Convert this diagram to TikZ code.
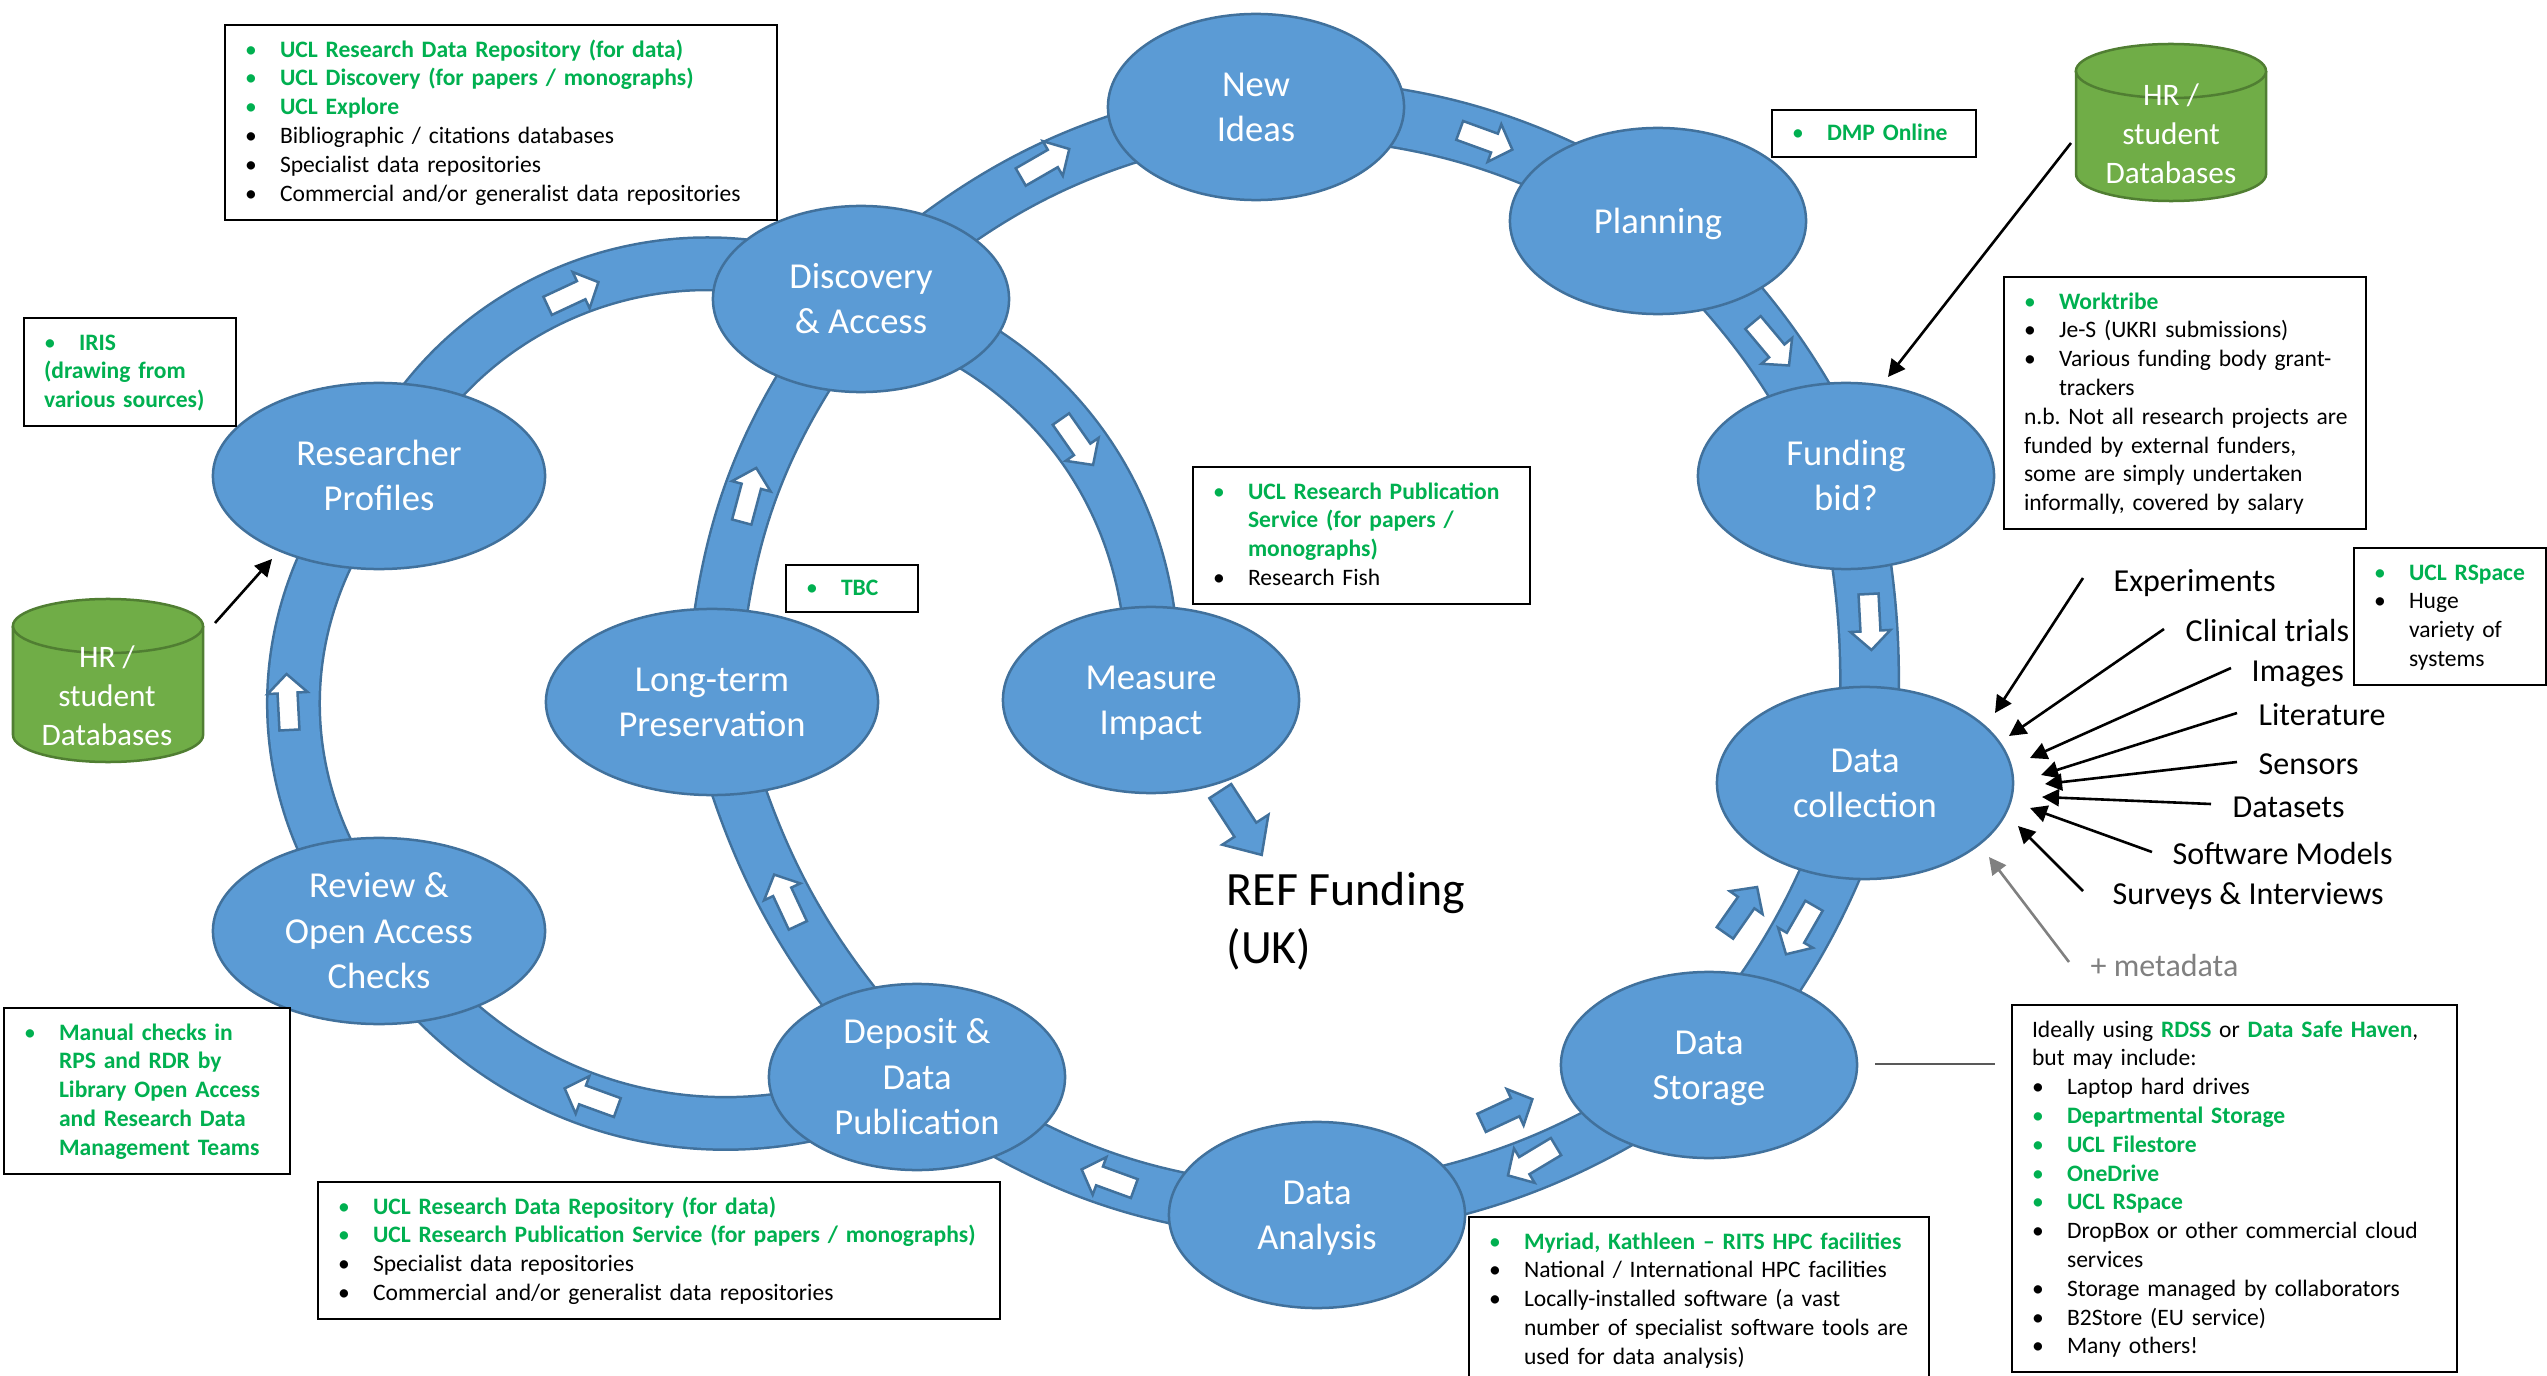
\documentclass[tikz,border=0pt]{standalone}
\usepackage{fontspec}
\setmainfont{Carlito}
\usetikzlibrary{shapes.geometric,arrows.meta}
\definecolor{bfill}{HTML}{5B9BD5}
\definecolor{bedge}{HTML}{41719C}
\definecolor{gfill}{HTML}{70AD47}
\definecolor{gedge}{HTML}{507E32}
\definecolor{ugreen}{HTML}{00B050}
\pgfdeclarelayer{bands}
\pgfsetlayers{bands,main}
\frenchspacing
\newcommand{\gb}[1]{{\color{ugreen}\makebox[0.35cm][l]{•}\textbf{#1}}}
\newcommand{\kb}[1]{\makebox[0.35cm][l]{•}#1}
\newcommand{\gc}[1]{\hspace*{0.35cm}{\color{ugreen}\textbf{#1}}}
\newcommand{\kc}[1]{\hspace*{0.35cm}#1}
\newcommand{\gt}[1]{{\color{ugreen}\textbf{#1}}}
\tikzset{
  x=0.01cm,y=-0.01cm,
  stagebase/.style={ellipse,draw=bedge,fill=bfill,line width=0.025cm,inner sep=0pt,
    minimum width=2.96cm,minimum height=1.86cm,align=center,text=white,
    font=\fontsize{10.4}{12.9}\selectfont},
  stage/.style={stagebase,text height=0.687cm,text depth=0pt},
  singlestage/.style={stagebase,text height=0.24cm,text depth=0pt},
  threestage/.style={stagebase,text height=1.15cm,text depth=0pt},
  band/.style={draw=bedge,line width=0.025cm,double=bfill,double distance=0.5cm},
  wideband/.style={band,double distance=0.56cm},
  flowarrow/.style={draw=bedge,fill=white,line width=0.025cm,line join=miter},
  blueflow/.style={flowarrow,fill=bfill},
  infobox/.style={draw=black,line width=0.02cm,fill=white,anchor=north west,align=left,
    inner xsep=0.2cm,inner ysep=0.1cm,font=\fontsize{6.7}{8.19}\selectfont,
    execute at begin node={\rule{0pt}{0.22cm}\strut},execute at end node={\strut}},
  tinybox/.style={infobox,inner ysep=0.08cm},
  srclabel/.style={anchor=west,inner sep=0pt,text height=0.28cm,text depth=0.06cm,
    font=\fontsize{9.1}{11}\selectfont},
  srcarrow/.style={-{Triangle[length=0.17cm,width=0.17cm]},line width=0.026cm,black},
  cyl/.style={draw=gedge,fill=gfill,line width=0.025cm},
  cyltext/.style={text=white,align=center,inner sep=0pt,font=\fontsize{8.9}{11.05}\selectfont},
}
\newcommand{\flow}[4][flowarrow]{% style, x, y, angle
  \path[#1,shift={(#2,#3)},rotate=#4] (-0.28cm,-0.1cm) -- (0.09cm,-0.1cm) -- (0.09cm,-0.2cm)
    -- (0.28cm,0cm) -- (0.09cm,0.2cm) -- (0.09cm,0.1cm) -- (-0.28cm,0.1cm) -- cycle;}
\newcommand{\cylshape}[3]{% centre x, top y, body height
  \path[cyl] (#1-95,#2+27) -- (#1-95,#2+#3) arc[start angle=180,end angle=360,x radius=0.95cm,y radius=0.27cm]
     -- (#1+95,#2+27) arc[start angle=0,end angle=180,x radius=0.95cm,y radius=0.27cm] -- cycle;
  \path[cyl] (#1-95,#2+27) arc[start angle=180,end angle=360,x radius=0.95cm,y radius=0.27cm];
}
\begin{document}
\begin{tikzpicture}
\path[use as bounding box] (0,0) rectangle (2547,1376);

% stages
\node[stage] (discovery) at (861,299) {Discovery\\\& Access};
\node[stage] (newideas) at (1256,107) {New\\Ideas};
\node[singlestage] (planning) at (1658,221) {Planning};
\node[stage] (funding) at (1846,476) {Funding\\bid?};
\node[stage,minimum height=1.92cm] (collection) at (1865,783) {Data\\collection};
\node[stage] (storage) at (1709,1065) {Data\\Storage};
\node[stage] (analysis) at (1317,1215) {Data\\Analysis};
\node[threestage] (deposit) at (917,1077) {Deposit \&\\Data\\Publication};
\node[threestage,minimum width=3.32cm] (review) at (379,931) {Review \&\\Open Access\\Checks};
\node[stage,minimum width=3.32cm] (researcher) at (379,476) {Researcher\\Profiles};
\node[stage,minimum width=3.32cm] (longterm) at (712,702) {Long-term\\Preservation};
\node[stage] (measure) at (1151,700) {Measure\\Impact};

% bands
\begin{pgfonlayer}{bands}
\draw[band] (discovery.center) to[bend left=16] (newideas.center);
\draw[wideband] (newideas.center) to[bend left=15] (planning.center);
\draw[wideband] (planning.center) to[bend left=10] (funding.center);
\draw[wideband] (funding.center) to[bend left=8] (collection.center);
\draw[wideband] (collection.center) to[bend left=10] (storage.center);
\draw[band] (storage.center) to[bend left=14] (analysis.center);
\draw[band] (analysis.center) to[bend left=16] (deposit.center);
\draw[band] (deposit.center) to[bend left=42] (review.center);
\draw[band] (review.center) to[bend left=40] (researcher.center);
\draw[band] (researcher.center) to[bend left=46] (discovery.center);
\draw[band] (discovery.center) to[bend left=40] (measure.center);
\draw[band] (longterm.center) to[bend left=17] (discovery.center);
\draw[band] (deposit.center) to[bend left=14] (longterm.center);
\end{pgfonlayer}

% flow arrows
\flow{573}{294}{25}
\flow{1045}{163}{30}
\flow{1486}{140}{-20}
\flow{1771}{344}{-50}
\flow{1870}{622}{-87}
\flow{1800}{930}{-120}
\flow[blueflow]{1741}{910}{55}
\flow[blueflow]{1507}{1111}{25}
\flow{1532}{1161}{211}
\flow{1108}{1179}{160}
\flow{591}{1098}{160}
\flow{786}{900}{115}
\flow{749}{495}{75}
\flow{1077}{442}{-55}
\flow{288}{702}{93}
\path[blueflow,shift={(1241,823)},rotate=-57] (-0.38cm,-0.13cm) -- (0.08cm,-0.13cm) -- (0.08cm,-0.275cm)
    -- (0.38cm,0cm) -- (0.08cm,0.275cm) -- (0.08cm,0.13cm) -- (-0.38cm,0.13cm) -- cycle;

% REF label
\node[anchor=north west,align=left,inner sep=0pt,font=\fontsize{13.6}{16.5}\selectfont] (ref) at (1226,872) {REF Funding\\(UK)};

% cylinders
\cylshape{2171}{44}{130}
\node[cyltext] (hr1) at (2171,134) {HR /\\student\\Databases};
\cylshape{108}{599}{136}
\node[cyltext] (hr2) at (107,696) {HR /\\student\\Databases};

% info boxes
\node[infobox,text width=5.12cm] (boxa) at (224,24) {\gb{UCL Research Data Repository (for data)}\\\gb{UCL Discovery (for papers / monographs)}\\\gb{UCL Explore}\\\kb{Bibliographic / citations databases}\\\kb{Specialist data repositories}\\\kb{Commercial and/or generalist data repositories}};
\node[infobox,text width=1.72cm] (boxb) at (23,317) {\gb{IRIS}\\\gt{(drawing from}\\\gt{various sources)}};
\node[infobox,text width=2.46cm] (boxc) at (3,1007) {\gb{Manual checks in}\\\gc{RPS and RDR by}\\\gc{Library Open Access}\\\gc{and Research Data}\\\gc{Management Teams}};
\node[infobox,text width=6.42cm] (boxd) at (317,1181) {\gb{UCL Research Data Repository (for data)}\\\gb{UCL Research Publication Service (for papers / monographs)}\\\kb{Specialist data repositories}\\\kb{Commercial and/or generalist data repositories}};
\node[infobox,text width=4.2cm] (boxe) at (1468,1216) {\gb{Myriad, Kathleen – RITS HPC facilities}\\\kb{National / International HPC facilities}\\\kb{Locally-installed software (a vast}\\\kc{number of specialist software tools are}\\\kc{used for data analysis)}};
\node[infobox,text width=4.05cm] (boxf) at (2011,1004) {Ideally using \gt{RDSS} or \gt{Data Safe Haven},\\but may include:\\\kb{Laptop hard drives}\\\gb{Departmental Storage}\\\gb{UCL Filestore}\\\gb{OneDrive}\\\gb{UCL RSpace}\\\kb{DropBox or other commercial cloud}\\\kc{services}\\\kb{Storage managed by collaborators}\\\kb{B2Store (EU service)}\\\kb{Many others!}};
\node[tinybox,text width=0.92cm] (boxg) at (785,564) {\gb{TBC}};
\node[infobox,text width=2.97cm] (boxh) at (1192,466) {\gb{UCL Research Publication}\\\gc{Service (for papers /}\\\gc{monographs)}\\\kb{Research Fish}};
\node[tinybox,text width=1.64cm] (boxi) at (1771,109) {\gb{DMP Online}};
\node[infobox,text width=3.22cm] (boxj) at (2003,276) {\gb{Worktribe}\\\kb{Je-S (UKRI submissions)}\\\kb{Various funding body grant-}\\\kc{trackers}\\\mbox{n.b. Not all research projects are}\\funded by external funders,\\some are simply undertaken\\informally, covered by salary};
\node[infobox,text width=1.52cm] (boxk) at (2353,547) {\gb{UCL RSpace}\\\kb{Huge}\\\kc{variety of}\\\kc{systems}};

% source labels
\node[srclabel] (lexp) at (2113,580) {Experiments};
\node[srclabel] (lcli) at (2185,630) {Clinical trials};
\node[srclabel] (limg) at (2251,670) {Images};
\node[srclabel] (llit) at (2258,714) {Literature};
\node[srclabel] (lsen) at (2258,763) {Sensors};
\node[srclabel] (ldat) at (2232,806) {Datasets};
\node[srclabel] (lsof) at (2172,853) {Software Models};
\node[srclabel] (lsur) at (2112,893) {Surveys \& Interviews};
\node[srclabel,text=gray] (lmet) at (2090,965) {+ metadata};

% connector ends
\coordinate (texp) at (2083,578); \coordinate (hexp) at (1995,713);
\coordinate (tcli) at (2164,629); \coordinate (hcli) at (2009,736);
\coordinate (timg) at (2231,668); \coordinate (himg) at (2030,758);
\coordinate (tlit) at (2237,713); \coordinate (hlit) at (2041,775);
\coordinate (tsen) at (2237,762); \coordinate (hsen) at (2045,784);
\coordinate (tdat) at (2211,804); \coordinate (hdat) at (2042,797);
\coordinate (tsof) at (2152,852); \coordinate (hsof) at (2030,808);
\coordinate (tsur) at (2083,891); \coordinate (hsur) at (2018,826);
\coordinate (tmet) at (2069,962); \coordinate (hmet) at (1989,857);
\coordinate (thr1) at (2071,143); \coordinate (hhr1) at (1888,377);
\coordinate (thr2) at (215,623); \coordinate (hhr2) at (272,559);
\coordinate (tsto) at (1875,1064); \coordinate (hsto) at (1995,1064);

\draw[srcarrow] (texp) -- (hexp);
\draw[srcarrow] (tcli) -- (hcli);
\draw[srcarrow] (timg) -- (himg);
\draw[srcarrow] (tlit) -- (hlit);
\draw[srcarrow] (tsen) -- (hsen);
\draw[srcarrow] (tdat) -- (hdat);
\draw[srcarrow] (tsof) -- (hsof);
\draw[srcarrow] (tsur) -- (hsur);
\draw[srcarrow,gray] (tmet) -- (hmet);
\draw[srcarrow] (thr1) -- (hhr1);
\draw[srcarrow] (thr2) -- (hhr2);
\draw[line width=0.02cm,black!65] (tsto) -- (hsto);
\end{tikzpicture}
\end{document}
